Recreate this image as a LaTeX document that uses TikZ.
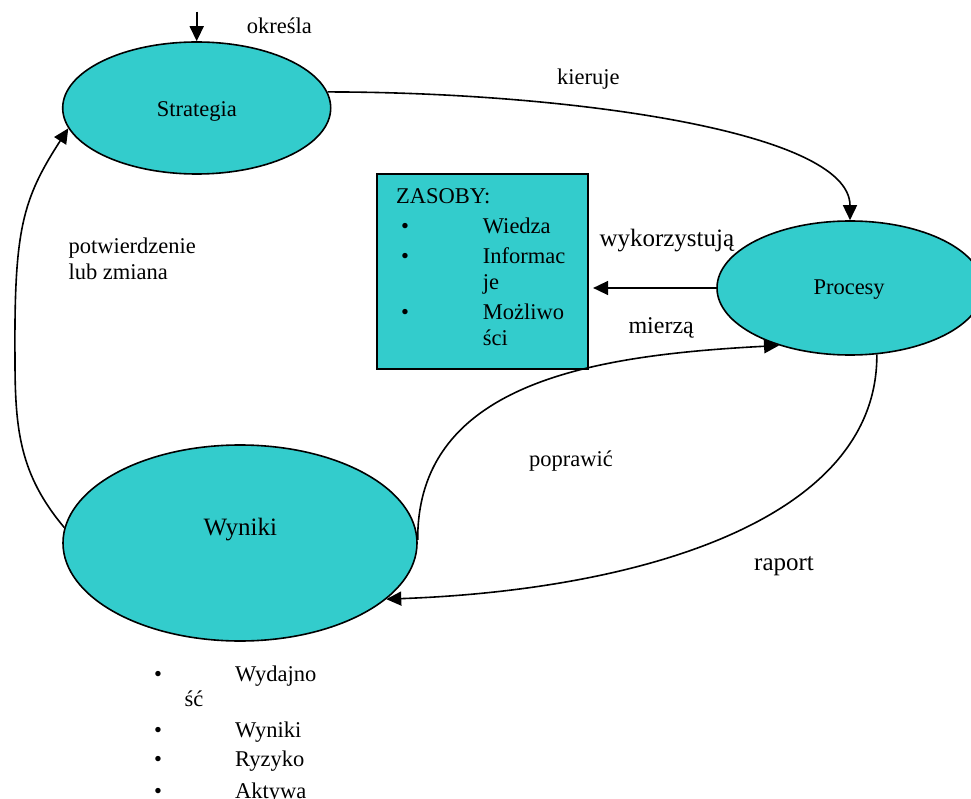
\documentclass[tikz,border=0pt]{standalone}
\usepackage{fontspec}
\setmainfont{Liberation Serif}
\usetikzlibrary{shapes.geometric,arrows.meta}
\definecolor{tealfill}{HTML}{33CCCC}

\begin{document}
\begin{tikzpicture}[x=1pt,y=-1pt,
  blob/.style={ellipse, draw, line width=1.6pt, fill=tealfill, inner sep=0pt},
  lbl/.style={anchor=base west, inner sep=0pt, font=\fontsize{22.5}{27}\selectfont},
  midlbl/.style={lbl, font=\fontsize{24}{28}\selectfont},
  biglbl/.style={lbl, font=\fontsize{25}{30}\selectfont},
  link/.style={line width=1.6pt, -{Triangle[length=15pt,width=14pt]}},
]
\useasboundingbox (0,0) rectangle (971,799);

% main shapes
\node[blob, minimum width=268pt, minimum height=132pt] (str) at (196.7,108) {};
\node[blob, minimum width=266pt, minimum height=134pt] (proc) at (850,288) {};
\node[blob, minimum width=354pt, minimum height=196pt] (wyn) at (240,543) {};
\node[draw, line width=1.6pt, fill=tealfill, minimum width=211pt,
      minimum height=195pt, inner sep=0pt] (zas) at (482.2,271.5) {};

% shape captions
\node[lbl] (strtxt) at (156.7,116.7) {Strategia};
\node[lbl] (proctxt) at (813.3,295) {Procesy};
\node[biglbl] (wyntxt) at (203.3,535) {Wyniki};

% resources list
\node[lbl] (zashead) at (396,204) {ZASOBY:};
\node[lbl] (zb1) at (401,234) {\textbullet};
\node[lbl] (zi1) at (482.7,234) {Wiedza};
\node[lbl] (zb2) at (401,263.3) {\textbullet};
\node[lbl] (zi2a) at (482.7,263.3) {Informac};
\node[lbl] (zi2b) at (482.7,289.3) {je};
\node[lbl] (zb3) at (401,319.3) {\textbullet};
\node[lbl] (zi3a) at (482.7,319.3) {Możliwo};
\node[lbl] (zi3b) at (482.7,345) {ści};

% results list
\node[lbl] (wb1) at (153.8,681.7) {\textbullet};
\node[lbl] (wi1a) at (235,681.7) {Wydajno};
\node[lbl] (wi1b) at (184.3,706.7) {ść};
\node[lbl] (wb2) at (153.8,737.3) {\textbullet};
\node[lbl] (wi2) at (235,737.3) {Wyniki};
\node[lbl] (wb3) at (153.8,766.7) {\textbullet};
\node[lbl] (wi3) at (235,766.7) {Ryzyko};
\node[lbl] (wb4) at (153.8,798) {\textbullet};
\node[lbl] (wi4) at (235,798) {Aktywa};

% connector labels
\node[lbl] (lokr) at (246.7,33.3) {określa};
\node[lbl] (lkier) at (557,85) {kieruje};
\node[lbl] (lpot1) at (68.3,254) {potwierdzenie};
\node[lbl] (lpot2) at (68.3,280) {lub zmiana};
\node[biglbl] (lwyk) at (599.3,246.7) {wykorzystują};
\node[midlbl] (lmie) at (628.3,333.3) {mierzą};
\node[lbl] (lpop) at (529,466) {poprawić};
\node[biglbl] (lrap) at (754,570.7) {raport};

% connectors
\coordinate (topin) at (196.7,11.7);
\draw[link] (topin) -- (str.north);
\draw[link] (str.7) .. controls (560,92) and (850,130) .. (proc.north);
\draw[link] (proc.west) -- ([xshift=4.6pt]zas.east |- proc.west);
\draw[link] (wyn.1) .. controls (417,380) and (600,355) .. (proc.219);
\draw[link] (proc.-68) .. controls (878,520) and (640,590) .. (wyn.-21);
\draw[link] (wyn.175) .. controls (20,475) and (15,430) .. (15,360)
            .. controls (14,230) and (22,200) .. (str.189);
\end{tikzpicture}
\end{document}
